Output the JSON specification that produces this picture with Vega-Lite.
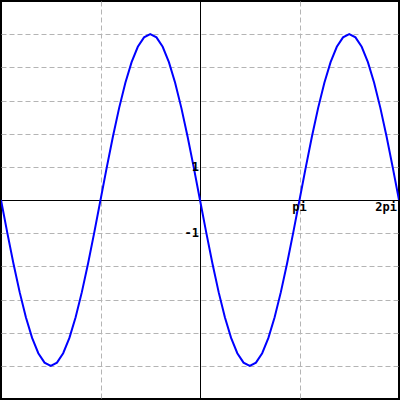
{
  "$schema": "https://vega.github.io/schema/vega-lite/v6.json",
  "width": 400,
  "height": 400,
  "padding": 0,
  "autosize": {"type": "fit", "contains": "padding"},
  "background": "white",
  "config": {"view": {"stroke": "black", "strokeWidth": 2}},
  "datasets": {
    "curve": [
      {"x": -6.2832, "y": 0}, {"x": -6.0868, "y": -0.9755}, {"x": -5.8905, "y": -1.9134}, {"x": -5.6941, "y": -2.7779},
      {"x": -5.4978, "y": -3.5355}, {"x": -5.3014, "y": -4.1573}, {"x": -5.1051, "y": -4.6194}, {"x": -4.9087, "y": -4.9039},
      {"x": -4.7124, "y": -5}, {"x": -4.5160, "y": -4.9039}, {"x": -4.3197, "y": -4.6194}, {"x": -4.1233, "y": -4.1573},
      {"x": -3.9270, "y": -3.5355}, {"x": -3.7306, "y": -2.7779}, {"x": -3.5343, "y": -1.9134}, {"x": -3.3379, "y": -0.9755},
      {"x": -3.1416, "y": 0}, {"x": -2.9452, "y": 0.9755}, {"x": -2.7489, "y": 1.9134}, {"x": -2.5525, "y": 2.7779},
      {"x": -2.3562, "y": 3.5355}, {"x": -2.1598, "y": 4.1573}, {"x": -1.9635, "y": 4.6194}, {"x": -1.7671, "y": 4.9039},
      {"x": -1.5708, "y": 5}, {"x": -1.3744, "y": 4.9039}, {"x": -1.1781, "y": 4.6194}, {"x": -0.9817, "y": 4.1573},
      {"x": -0.7854, "y": 3.5355}, {"x": -0.5890, "y": 2.7779}, {"x": -0.3927, "y": 1.9134}, {"x": -0.1963, "y": 0.9755},
      {"x": 0, "y": 0}, {"x": 0.1963, "y": -0.9755}, {"x": 0.3927, "y": -1.9134}, {"x": 0.5890, "y": -2.7779},
      {"x": 0.7854, "y": -3.5355}, {"x": 0.9817, "y": -4.1573}, {"x": 1.1781, "y": -4.6194}, {"x": 1.3744, "y": -4.9039},
      {"x": 1.5708, "y": -5}, {"x": 1.7671, "y": -4.9039}, {"x": 1.9635, "y": -4.6194}, {"x": 2.1598, "y": -4.1573},
      {"x": 2.3562, "y": -3.5355}, {"x": 2.5525, "y": -2.7779}, {"x": 2.7489, "y": -1.9134}, {"x": 2.9452, "y": -0.9755},
      {"x": 3.1416, "y": 0}, {"x": 3.3379, "y": 0.9755}, {"x": 3.5343, "y": 1.9134}, {"x": 3.7306, "y": 2.7779},
      {"x": 3.9270, "y": 3.5355}, {"x": 4.1233, "y": 4.1573}, {"x": 4.3197, "y": 4.6194}, {"x": 4.5160, "y": 4.9039},
      {"x": 4.7124, "y": 5}, {"x": 4.9087, "y": 4.9039}, {"x": 5.1051, "y": 4.6194}, {"x": 5.3014, "y": 4.1573},
      {"x": 5.4978, "y": 3.5355}, {"x": 5.6941, "y": 2.7779}, {"x": 5.8905, "y": 1.9134}, {"x": 6.0868, "y": 0.9755},
      {"x": 6.2832, "y": 0}
    ],
    "xlabels": [{"x": 3.1416, "y": 0, "label": "pi"}],
    "xlabels2": [{"x": 6.2832, "y": 0, "label": "2pi"}],
    "ylabels": [{"x": 0, "y": 1, "label": "1"}, {"x": 0, "y": -1, "label": "-1"}],
    "origin": [{"x": 0, "y": 0}]
  },
  "encoding": {
    "x": {"field": "x", "type": "quantitative", "scale": {"domain": [-6.2832, 6.2832], "nice": false, "zero": false},
      "axis": {"title": null, "labels": false, "ticks": false, "domain": false, "values": [-3.1416, 3.1416],
        "grid": true, "gridColor": "#b4b4b4", "gridDash": [5, 3], "gridWidth": 1}},
    "y": {"field": "y", "type": "quantitative", "scale": {"domain": [-6, 6], "nice": false, "zero": false},
      "axis": {"title": null, "labels": false, "ticks": false, "domain": false, "values": [-5, -4, -3, -2, -1, 1, 2, 3, 4, 5],
        "grid": true, "gridColor": "#b4b4b4", "gridDash": [5, 3], "gridWidth": 1}}
  },
  "layer": [
    {"data": {"name": "origin"}, "mark": {"type": "rule", "color": "black", "strokeWidth": 1, "xOffset": 0.5}, "encoding": {"x": {"field": "x", "type": "quantitative"}, "y": null}},
    {"data": {"name": "origin"}, "mark": {"type": "rule", "color": "black", "strokeWidth": 1, "yOffset": 0.5}, "encoding": {"y": {"field": "y", "type": "quantitative"}, "x": null}},
    {"data": {"name": "curve"}, "mark": {"type": "line", "color": "#0000ff", "strokeWidth": 2, "clip": true}},
    {"data": {"name": "xlabels"}, "mark": {"type": "text", "font": "DejaVu Sans Mono", "fontWeight": "bold", "fontSize": 12, "align": "center", "baseline": "top", "dy": 2, "color": "black"},
      "encoding": {"text": {"field": "label"}}},
    {"data": {"name": "xlabels2"}, "mark": {"type": "text", "font": "DejaVu Sans Mono", "fontWeight": "bold", "fontSize": 12, "align": "right", "baseline": "top", "dy": 2, "dx": -2, "color": "black"},
      "encoding": {"text": {"field": "label"}}},
    {"data": {"name": "ylabels"}, "mark": {"type": "text", "font": "DejaVu Sans Mono", "fontWeight": "bold", "fontSize": 12, "align": "right", "baseline": "middle", "dx": -1, "color": "black"},
      "encoding": {"text": {"field": "label"}}}
  ]
}
